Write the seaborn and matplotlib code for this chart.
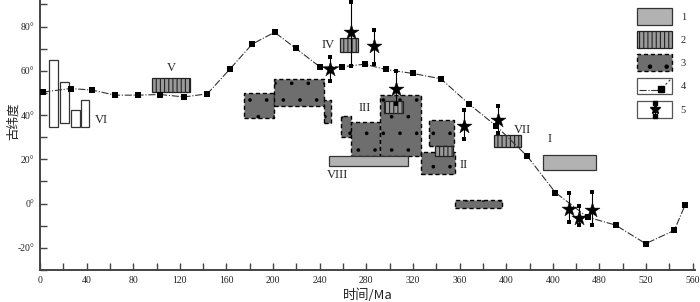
# Reconstruccion del grafico de paleolatitud vs tiempo
import numpy as np
import pandas as pd
import seaborn as sns
import matplotlib
matplotlib.use('Agg')
import matplotlib.pyplot as plt
from matplotlib.patches import Rectangle, Patch
from matplotlib.lines import Line2D
from matplotlib.legend_handler import HandlerBase

# Datos ---------------------------------------------------------------------
# Curva de deriva polar (serie 4): edad (Ma) y paleolatitud (grados)
curva_edad = [2.7, 26.2, 44.8, 64.3, 83.8, 102.8, 123.6, 143.6, 162.6, 182.1, 201.3,
              219.6, 240.1, 259.2, 278.6, 296.8, 320, 344, 368.5, 391.6, 418.1,
              442.2, 469.8, 493.8, 519.7, 544.2, 553.6]
curva_lat = [50.4, 52.0, 51.3, 49.0, 49.0, 49.3, 48.2, 49.6, 60.6, 72.1, 77.4,
             70.1, 61.8, 61.8, 63.0, 60.6, 58.8, 56.4, 44.8, 35.0, 21.4,
             5.0, -6.1, -9.7, -18.1, -12.1, -0.5]

# Estrellas con barra de error (serie 5)
estrella_edad = [266.7, 287, 248.7, 305.2, 363.6, 393, 453.5, 462.5, 473.3]
estrella_lat = [77.4, 71.3, 60.8, 51.6, 35.1, 37.7, -2.3, -6.3, -2.7]
estrella_min = [62.1, 63.3, 55.3, 44.8, 29.0, 31.7, -8.5, -9.7, -9.5]
estrella_max = [91.2, 78.4, 66.3, 59.9, 42.2, 44.0, 4.8, -1.1, 5.2]

# Cajas tipo 1 (gris claro): edad inicio, edad fin, lat min, lat max
caja1_ini = [248, 431.5]
caja1_fin = [316, 477]
caja1_lmin = [16.8, 15.4]
caja1_lmax = [21.4, 21.9]

# Cajas tipo 2 (rayadas)
caja2_ini = [96, 257, 295, 339, 389.5]
caja2_fin = [128.5, 273, 311.5, 354.5, 412.5]
caja2_lmin = [50.5, 68.3, 41.0, 21.4, 25.6]
caja2_lmax = [56.6, 74.7, 46.4, 25.9, 31.2]

# Cajas tipo 3 (punteadas)
caja3_ini = [175, 201, 244, 258, 267, 292, 334, 327, 356]
caja3_fin = [201, 244, 250, 267, 292, 326.5, 355, 356, 396]
caja3_lmin = [38.7, 44.2, 36.2, 30.0, 21.6, 21.6, 25.9, 13.6, -1.8]
caja3_lmax = [49.8, 56.1, 46.7, 39.5, 36.9, 49.0, 37.7, 23.3, 1.8]

# Barras blancas (VI)
barra_ini = [7.7, 17, 27, 35.5]
barra_fin = [15.3, 24.7, 34.1, 42.4]
barra_lmin = [34.7, 36.5, 34.7, 34.7]
barra_lmax = [64.8, 55.0, 42.1, 46.7]

# Etiquetas romanas: texto, edad, latitud
etiquetas = ['V', 'VI', 'IV', 'III', 'II', 'VII', 'I', 'VIII']
etiq_edad = [112.9, 53.1, 246.9, 278.6, 363.6, 414, 437, 255.5]
etiq_lat = [61.1, 37.7, 71.6, 43.1, 17.3, 33.2, 29.0, 12.8]

ticks_x = list(range(0, 561, 40))
etiquetas_x = ['0', '40', '80', '120', '160', '200', '240', '280', '320', '360',
               '400', '400', '480', '520', '560']
ticks_y = [-20, 0, 20, 40, 60, 80]

# Estilos --------------------------------------------------------------------
sns.set_style('ticks')
plt.rcParams['font.family'] = ['Liberation Serif', 'Noto Sans CJK SC', 'DejaVu Sans']
plt.rcParams['hatch.linewidth'] = 0.8

color_eje = '#444444'
gris1 = '#b2b2b2'
gris2 = '#9a9a9a'
gris3 = '#6e6e6e'


def dibujar_cajas(ax, ini, fin, lmin, lmax, grosor_trama=0.8, **estilo):
    for a, b, c, d in zip(ini, fin, lmin, lmax):
        p = Rectangle((a, c), b - a, d - c, **estilo)
        if hasattr(p, 'set_hatch_linewidth'):
            p.set_hatch_linewidth(grosor_trama)
        ax.add_patch(p)


# Manejador de leyenda para las entradas enmarcadas 4 y 5
class CajaLeyenda(HandlerBase):
    def __init__(self, tipo):
        super().__init__()
        self.tipo = tipo

    def create_artists(self, legend, orig_handle, xdescent, ydescent, width, height, fontsize, trans):
        x0, y0 = -xdescent, -ydescent
        arts = [Rectangle((x0, y0), width, height, facecolor='white', edgecolor='#555555',
                          lw=0.9, transform=trans)]
        if self.tipo == 'curva':
            arts.append(Line2D([x0 + 0.05 * width, x0 + 0.62 * width], [y0 + 0.28 * height] * 2,
                               ls='-.', color='#333333', lw=0.8, transform=trans))
            arts.append(Line2D([x0 + 0.72 * width, x0 + 0.95 * width], [y0 + 0.4 * height, y0 + 0.9 * height],
                               ls=(0, (2, 2)), color='#333333', lw=0.8, transform=trans))
            arts.append(Line2D([x0 + 0.68 * width], [y0 + 0.33 * height], marker='s', ms=4.5,
                               color='black', ls='none', transform=trans))
        else:
            xm = x0 + 0.5 * width
            arts.append(Line2D([xm, xm], [y0 + 0.12 * height, y0 + 0.88 * height],
                               color='black', lw=0.8, marker='s', ms=2.5, transform=trans))
            arts.append(Line2D([xm], [y0 + 0.5 * height], marker='*', ms=8,
                               color='black', ls='none', transform=trans))
        return arts


# Figura -----------------------------------------------------------------------
fig = plt.figure(figsize=(7.0, 3.02), dpi=100)
ax = fig.add_axes([40 / 700, 32 / 302, 655 / 700, 270 / 302])

# Cajas
dibujar_cajas(ax, barra_ini, barra_fin, barra_lmin, barra_lmax,
              facecolor='white', edgecolor='#333333', lw=0.9, zorder=2)
dibujar_cajas(ax, caja3_ini, caja3_fin, caja3_lmin, caja3_lmax, grosor_trama=0.2,
              facecolor=gris3, edgecolor='black', lw=1.0, ls=(0, (3, 2)), hatch='.', zorder=2)
dibujar_cajas(ax, caja1_ini, caja1_fin, caja1_lmin, caja1_lmax,
              facecolor=gris1, edgecolor='#333333', lw=0.9, zorder=3)
dibujar_cajas(ax, caja2_ini, caja2_fin, caja2_lmin, caja2_lmax,
              facecolor=gris2, edgecolor='#222222', lw=0.9, hatch='||||', zorder=3)

# Curva de deriva con marcadores cuadrados
df_curva = pd.DataFrame({'edad': curva_edad, 'lat': curva_lat})
sns.lineplot(data=df_curva, x='edad', y='lat', sort=False, color='#333333', lw=0.8,
             linestyle='-.', ax=ax, zorder=4)
sns.scatterplot(data=df_curva, x='edad', y='lat', marker='s', s=24, color='black',
                edgecolor='black', linewidth=0, ax=ax, zorder=5)

# Estrellas con barras de error
df_est = pd.DataFrame({'edad': estrella_edad, 'lat': estrella_lat,
                       'lmin': estrella_min, 'lmax': estrella_max})
ax.vlines(df_est['edad'], df_est['lmin'], df_est['lmax'], color='black', lw=0.8, zorder=6)
extremos = pd.DataFrame({'edad': list(df_est['edad']) * 2,
                         'lat': list(df_est['lmin']) + list(df_est['lmax'])})
sns.scatterplot(data=extremos, x='edad', y='lat', marker='s', s=7, color='black',
                linewidth=0, ax=ax, zorder=6)
sns.scatterplot(data=df_est, x='edad', y='lat', marker='*', s=130, color='black',
                edgecolor='black', linewidth=0.3, ax=ax, zorder=7)

# Etiquetas romanas
for t, xe, ye in zip(etiquetas, etiq_edad, etiq_lat):
    ax.text(xe, ye, t, ha='center', va='center', fontsize=9, color='#222222',
            family=['Liberation Serif'], zorder=8)

# Ejes
ax.set_xlim(0, 562)
ax.set_ylim(-30, 92)
ax.set_xticks(ticks_x)
ax.set_xticklabels(etiquetas_x)
ax.set_xticks(range(0, 561, 20), minor=True)
ax.set_yticks(ticks_y)
ax.set_yticklabels([f'{v}°' for v in ticks_y])
ax.set_yticks(range(-30, 91, 10), minor=True)
ax.tick_params(which='both', direction='in', length=5, width=1.0, color=color_eje,
               labelsize=7, labelcolor='#222222', pad=4)
sns.despine(ax=ax)
for lado in ['left', 'bottom']:
    ax.spines[lado].set_color(color_eje)
    ax.spines[lado].set_linewidth(1.4)

ax.set_xlabel('时间/Ma', fontsize=9.5, family=['Noto Sans CJK SC'], color='#222222', labelpad=3)
ax.set_ylabel('古纬度', fontsize=9, family=['Noto Sans CJK SC'], color='#222222')
ax.yaxis.set_label_coords(-0.031, 0.55)

# Leyenda
h1 = Patch(facecolor=gris1, edgecolor='#333333', lw=0.9)
h2 = Patch(facecolor=gris2, edgecolor='#222222', lw=0.9, hatch='||||')
h3 = Patch(facecolor=gris3, edgecolor='black', lw=1.0, ls=(0, (3, 2)), hatch='.')
h4 = Line2D([], [])
h5 = Line2D([], [], ls=':')
leg = fig.legend([h1, h2, h3, h4, h5], ['1', '2', '3', '4', '5'],
                 handler_map={h4: CajaLeyenda('curva'), h5: CajaLeyenda('estrella')},
                 loc='upper left', bbox_to_anchor=(637 / 700, 1 - 8 / 302),
                 frameon=False, fontsize=7.5, handlelength=3.4, handleheight=2.1,
                 labelspacing=0.62, handletextpad=0.8, borderpad=0, borderaxespad=0)

plt.savefig('out.png', dpi=100)
